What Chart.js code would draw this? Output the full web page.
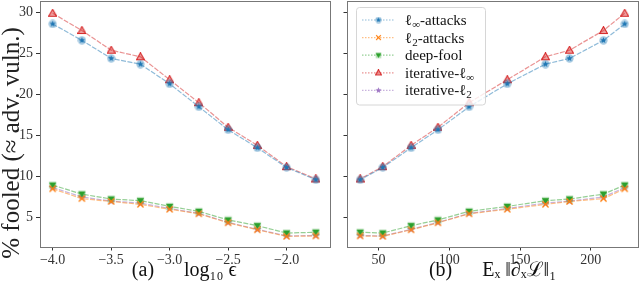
<!DOCTYPE html>
<html>
<head>
<meta charset="utf-8">
<script src="https://cdn.jsdelivr.net/npm/chart.js@4.4.1/dist/chart.umd.min.js"></script>
<style>
    html, body { margin: 0; padding: 0; background: #fff; }
    #wrap { position: relative; width: 640px; height: 285px; overflow: hidden; }
    #boxA { position: absolute; left: 0; top: 0; width: 335px; height: 285px; }
    #boxB { position: absolute; left: 335px; top: 0; width: 305px; height: 285px; }
</style>
</head>
<body>
<div id="wrap">
    <div id="boxA"><canvas id="chartA" width="335" height="285"></canvas></div>
    <div id="boxB"><canvas id="chartB" width="305" height="285"></canvas></div>
</div>
<script>
// x values: log10(eps) for panel (a), mean gradient norm for panel (b)
const epsLog = [-4.0, -3.75, -3.5, -3.25, -3.0, -2.75, -2.5, -2.25, -2.0, -1.75];
const gradNorm = [224, 209, 185, 168, 141, 114, 92, 73, 53, 37];

const seriesNames = ['ℓ∞-attacks', 'ℓ2-attacks', 'deep-fool', 'iterative-ℓ∞', 'iterative-ℓ2'];
const linfAttacks = [28.6, 26.6, 24.4, 23.7, 21.3, 18.5, 15.7, 13.5, 11.1, 9.6];
const l2Attacks = [8.5, 7.3, 6.95, 6.6, 6.0, 5.45, 4.35, 3.5, 2.7, 2.75];
const deepFool = [8.95, 7.85, 7.25, 7.05, 6.35, 5.75, 4.7, 4.0, 3.1, 3.2];
const iterLinf = [29.9, 27.8, 25.4, 24.6, 21.8, 19.0, 16.0, 13.8, 11.2, 9.7];
const iterL2 = [8.65, 7.5, 7.0, 6.75, 6.1, 5.5, 4.4, 3.55, 2.75, 2.8];

const yTicks = [5, 10, 15, 20, 25, 30];
const xTicksA = [-4.0, -3.5, -3.0, -2.5, -2.0];
const xTicksB = [50, 100, 150, 200];

const yTitle = '% fooled (≈ adv. vuln.)';
const xTitleA = '(a)\u2003\u2002log₁₀ ϵ';
const xTitleB = '(b)\u2003\u2002Eₓ ‖∂ₓℒ‖₁';

const serif = '"Liberation Serif", "DejaVu Serif", serif';
const colors = ['#1f77b4', '#ff7f0e', '#2ca02c', '#d62728', '#9467bd'];
const markerKinds = ['circleStar', 'cross', 'triDown', 'triUp', 'star'];
const seriesValues = [linfAttacks, l2Attacks, deepFool, iterLinf, iterL2];

function rgba(hex, a) {
    const n = parseInt(hex.slice(1), 16);
    return 'rgba(' + (n >> 16) + ',' + ((n >> 8) & 255) + ',' + (n & 255) + ',' + a + ')';
}

function starPath(g, cx, cy, r) {
    g.beginPath();
    for (let k = 0; k < 10; k++) {
        const rr = k % 2 === 0 ? r : r * 0.45;
        const ang = -Math.PI / 2 + k * Math.PI / 5;
        const px = cx + rr * Math.cos(ang), py = cy + rr * Math.sin(ang);
        if (k === 0) g.moveTo(px, py); else g.lineTo(px, py);
    }
    g.closePath();
}

// matplotlib-like markers drawn into small canvases
function makeMarker(kind, color, size) {
    const c = document.createElement('canvas');
    c.width = size; c.height = size;
    const g = c.getContext('2d');
    const m = size / 2;
    if (kind === 'circleStar') {
        g.beginPath(); g.arc(m, m, size * 0.46, 0, Math.PI * 2);
        g.fillStyle = rgba(color, 0.4); g.fill();
        starPath(g, m, m, size * 0.36); g.fillStyle = color; g.fill();
    } else if (kind === 'cross') {
        const d = size * 0.34;
        g.strokeStyle = color; g.lineWidth = 1.3;
        g.beginPath();
        g.moveTo(m - d, m - d); g.lineTo(m + d, m + d);
        g.moveTo(m + d, m - d); g.lineTo(m - d, m + d);
        g.stroke();
    } else if (kind === 'triDown') {
        const s = size * 0.4;
        g.fillStyle = rgba(color, 0.35);
        g.fillRect(m - s, m - s, 2 * s, 2 * s);
        g.beginPath();
        g.moveTo(m - s, m - s * 0.7); g.lineTo(m + s, m - s * 0.7); g.lineTo(m, m + s);
        g.closePath(); g.fillStyle = color; g.fill();
    } else if (kind === 'triUp') {
        const s = size * 0.44;
        g.beginPath();
        g.moveTo(m, m - s); g.lineTo(m + s, m + s * 0.75); g.lineTo(m - s, m + s * 0.75);
        g.closePath();
        g.fillStyle = rgba(color, 0.45); g.fill();
        g.strokeStyle = color; g.lineWidth = 1.1; g.stroke();
    } else {
        starPath(g, m, m, size * 0.46);
        g.fillStyle = rgba(color, 0.85); g.fill();
    }
    return c;
}

const plotMarkers = colors.map((c, i) => makeMarker(markerKinds[i], c, 9));
const legendMarkers = colors.map((c, i) => makeMarker(markerKinds[i], c, 7));

function buildDatasets(xs) {
    return seriesValues.map((vals, i) => ({
        label: seriesNames[i],
        data: vals.map((v, k) => ({ x: xs[k], y: v })),
        borderColor: rgba(colors[i], 0.5),
        borderWidth: 1.2,
        borderDash: [5, 1.5],
        pointStyle: plotMarkers[i],
        pointRadius: 4.5,
        pointHoverRadius: 4.5,
        fill: false,
        tension: 0
    }));
}

function xScale(min, max, ticks, title, fmt) {
    return {
        type: 'linear', min: min, max: max,
        afterBuildTicks: s => { s.ticks = ticks.map(v => ({ value: v })); },
        afterFit: s => { s.height = 38; s.paddingLeft = 0; s.paddingRight = 0; },
        grid: { display: true, drawOnChartArea: false, drawTicks: true, tickLength: 3.5, tickColor: '#333' },
        border: { display: false },
        ticks: { callback: fmt, font: { family: serif, size: 14 }, color: '#333', padding: 1, maxRotation: 0, autoSkip: false },
        title: { display: true, text: title, font: { family: serif, size: 20 }, color: '#111', padding: { top: 0, bottom: 2 } }
    };
}

function yScale(showLabels, width) {
    return {
        type: 'linear', min: 1.4, max: 31.4,
        afterBuildTicks: s => { s.ticks = yTicks.map(v => ({ value: v })); },
        afterFit: s => { s.width = width; s.paddingTop = 0; s.paddingBottom = 0; },
        grid: { display: true, drawOnChartArea: false, drawTicks: true, tickLength: 3.5, tickColor: '#333' },
        border: { display: false },
        ticks: { display: showLabels, font: { family: serif, size: 14 }, color: '#333', padding: 3 }
    };
}

// full box around the plot, like matplotlib spines
const framePlugin = {
    id: 'frame',
    afterDatasetsDraw(chart) {
        const a = chart.chartArea, ctx = chart.ctx;
        ctx.save();
        ctx.strokeStyle = '#777';
        ctx.lineWidth = 1;
        ctx.strokeRect(Math.round(a.left) + 0.5, Math.round(a.top) + 0.5,
            Math.round(a.right - a.left), Math.round(a.bottom - a.top));
        ctx.restore();
    }
};

const yTitlePlugin = {
    id: 'yTitle',
    afterDraw(chart) {
        const ctx = chart.ctx;
        ctx.save();
        ctx.translate(12, 143);
        ctx.rotate(-Math.PI / 2);
        ctx.font = '25px ' + serif;
        ctx.fillStyle = '#222';
        ctx.textAlign = 'center';
        ctx.textBaseline = 'middle';
        ctx.fillText(yTitle, 0, 0);
        ctx.restore();
    }
};

function drawLabel(ctx, text, x, y) {
    const parts = text.split(/(ℓ[∞2])/);
    ctx.textBaseline = 'alphabetic';
    ctx.textAlign = 'left';
    ctx.fillStyle = '#111';
    const base = y + 5;
    parts.forEach(p => {
        if (!p) return;
        if (/^ℓ[∞2]$/.test(p)) {
            ctx.font = '15px ' + serif;
            ctx.fillText('ℓ', x, base);
            x += ctx.measureText('ℓ').width;
            ctx.font = '11px ' + serif;
            ctx.fillText(p[1], x, base + 3);
            x += ctx.measureText(p[1]).width;
        } else {
            ctx.font = '15px ' + serif;
            ctx.fillText(p, x, base);
            x += ctx.measureText(p).width;
        }
    });
}

const innerLegend = {
    id: 'innerLegend',
    afterDraw(chart) {
        const ctx = chart.ctx;
        ctx.save();
        ctx.beginPath();
        ctx.roundRect(21.5, 7.5, 129, 97.5, 3);
        ctx.fillStyle = 'rgba(255,255,255,0.8)';
        ctx.fill();
        ctx.strokeStyle = '#d6d6d6';
        ctx.lineWidth = 1;
        ctx.stroke();
        chart.data.datasets.forEach((ds, i) => {
            const y = 20 + i * 17.6;
            ctx.strokeStyle = ds.borderColor;
            ctx.lineWidth = 1.2;
            ctx.setLineDash([1.5, 1.5]);
            ctx.beginPath();
            ctx.moveTo(27, y); ctx.lineTo(60, y);
            ctx.stroke();
            ctx.setLineDash([]);
            const mk = legendMarkers[i];
            ctx.drawImage(mk, 43.5 - mk.width / 2, y - mk.height / 2);
            drawLabel(ctx, ds.label, 70, y);
        });
        ctx.restore();
    }
};

const fmtEps = v => (v < 0 ? '−' : '') + Math.abs(v).toFixed(1);
const fmtInt = v => String(v);

const commonOpts = {
    responsive: false,
    animation: false,
    events: [],
    plugins: { legend: { display: false }, tooltip: { enabled: false } }
};

new Chart(document.getElementById('chartA'), {
    type: 'line',
    data: { datasets: buildDatasets(epsLog) },
    options: Object.assign({}, commonOpts, {
        layout: { autoPadding: false, padding: { left: 0, top: 1, right: 6, bottom: 0 } },
        scales: {
            x: xScale(-4.1125, -1.6375, xTicksA, xTitleA, fmtEps),
            y: yScale(true, 39.5)
        }
    }),
    plugins: [framePlugin, yTitlePlugin]
});

new Chart(document.getElementById('chartB'), {
    type: 'line',
    data: { datasets: buildDatasets(gradNorm) },
    options: Object.assign({}, commonOpts, {
        layout: { autoPadding: false, padding: { left: 0, top: 1, right: 2, bottom: 0 } },
        scales: {
            x: xScale(27.7, 233.4, xTicksB, xTitleB, fmtInt),
            y: yScale(false, 12)
        }
    }),
    plugins: [framePlugin, innerLegend]
});
</script>
</body>
</html>
